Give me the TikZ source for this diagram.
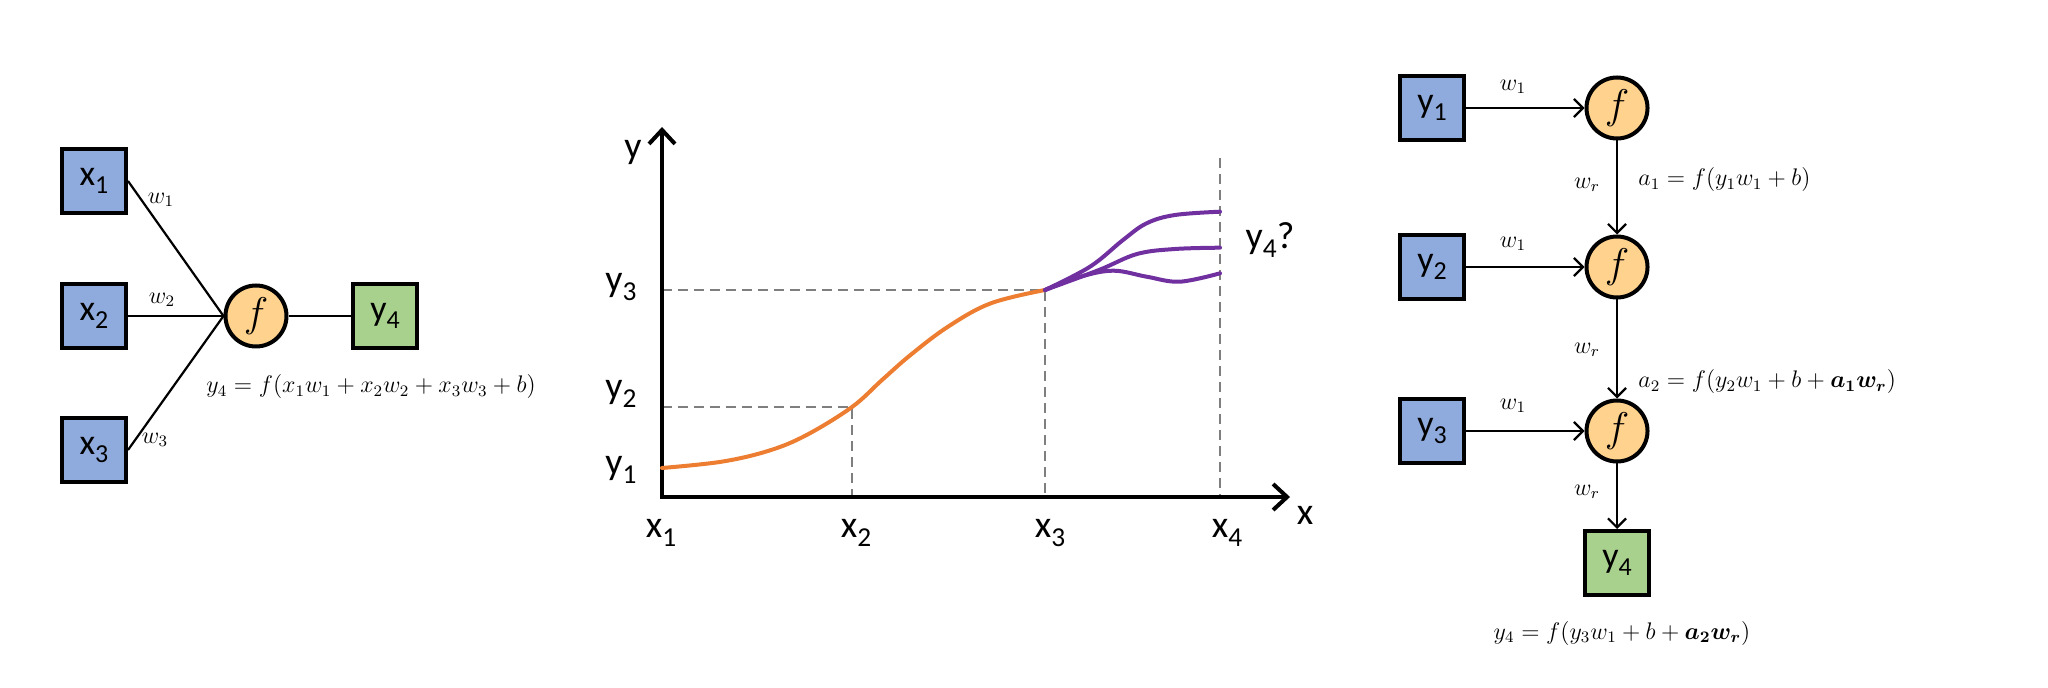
\documentclass[tikz,border=0pt]{standalone}
\usepackage{fontspec}
\setmainfont{Carlito}
\usepackage{bm}
\usetikzlibrary{arrows.meta}
\definecolor{boxblue}{HTML}{8FAADC}
\definecolor{circfill}{HTML}{FFD28E}
\definecolor{boxgreen}{HTML}{A9D18E}
\definecolor{curveor}{HTML}{ED7D31}
\definecolor{curvepu}{HTML}{7030A0}
\definecolor{dashgray}{HTML}{7F7F7F}
\newcommand\lsub[1]{\raisebox{-0.22em}{\scalebox{0.72}{#1}}}
\tikzset{
  inbox/.style={draw, line width=2pt, fill=boxblue, minimum size=32pt, inner sep=0pt, font=\fontsize{18}{20}\selectfont},
  outbox/.style={inbox, fill=boxgreen},
  fnode/.style={circle, draw, line width=2pt, fill=circfill, minimum size=30.5pt, inner sep=0pt, font=\fontsize{20}{22}\selectfont},
  wlab/.style={font=\fontsize{12}{14}\selectfont, inner sep=0pt},
  eqlab/.style={font=\fontsize{12}{14}\selectfont, inner sep=0pt},
  conn/.style={line width=1.1pt},
  arr/.style={conn, -{Straight Barb[length=4.5pt,width=9pt]}},
  axlines/.style={line width=2pt, line join=miter, {Straight Barb[length=7pt,width=13pt]}-{Straight Barb[length=7pt,width=13pt]}},
  guide/.style={dashgray, line width=0.8pt, dash pattern=on 5pt off 3pt},
  axlab/.style={font=\fontsize{19}{21}\selectfont, inner sep=0pt},
  curve/.style={line width=2pt, line cap=round}
}
\begin{document}
\begin{tikzpicture}[x=0.5pt,y=-0.5pt]
\useasboundingbox (0,0) rectangle (2048,688);

% ---------- left panel ----------
\node[inbox] (x1) at (94,181) {x\lsub{1}};
\node[inbox] (x2) at (94,316) {x\lsub{2}};
\node[inbox] (x3) at (94,450) {x\lsub{3}};
\node[fnode] (f0) at (256,316) {$f$};
\node[outbox] (y4a) at (385,316) {y\lsub{4}};
\draw[conn] (x1.east) -- (f0.west);
\draw[conn] (x2.east) -- (f0.west);
\draw[conn] (x3.east) -- (f0.west);
\draw[conn] (f0.east) -- (y4a.west);
\node[wlab] (lw1) at (161,200) {$w_1$};
\node[wlab] (lw2) at (162,300) {$w_2$};
\node[wlab] (lw3) at (155,440) {$w_3$};
\node[eqlab] (eq0) at (371,387) {$y_4=f(x_1w_1+x_2w_2+x_3w_3+b)$};

% ---------- middle chart ----------
\coordinate (O) at (662,497);
\coordinate (P1) at (662,468);
\coordinate (P2) at (852,407);
\coordinate (P3) at (1045,290);
\coordinate (X4top) at (1220,158);
\draw[guide] (O |- P2) -- (P2) -- (P2 |- O);
\draw[guide] (O |- P3) -- (P3) -- (P3 |- O);
\draw[guide] (X4top) -- (X4top |- O);
\draw[axlines] (662,127) -- (O) -- (1290,497);
\draw[curve, curveor] plot[smooth, tension=0.6] coordinates {(P1) (721.6,461.7) (768.9,450.7) (806.6,435) (P2) (882,380) (910.5,355) (948,326.7) (990.8,303.3) (P3)};
\draw[curve, curvepu] plot[smooth, tension=0.6] coordinates {(P3) (1090,266.7) (1123,240) (1146.6,223.3) (1175,215) (1220,211.7)};
\draw[curve, curvepu] plot[smooth, tension=0.6] coordinates {(P3) (1099,270) (1137,254) (1175,249) (1220,247.7)};
\draw[curve, curvepu] plot[smooth, tension=0.6] coordinates {(P3) (1080.5,276.7) (1113.5,270.7) (1146.6,276.7) (1179.6,281.7) (1220,273.3)};
\node[axlab] (ly) at (633,152) {y};
\node[axlab] (lx) at (1305,515) {x};
\node[axlab] (ly3) at (621,287) {y\lsub{3}};
\node[axlab] (ly2) at (621,394) {y\lsub{2}};
\node[axlab] (ly1) at (621,470) {y\lsub{1}};
\node[axlab] (lx1) at (661,533) {x\lsub{1}};
\node[axlab] (lx2) at (856,533) {x\lsub{2}};
\node[axlab] (lx3) at (1050,533) {x\lsub{3}};
\node[axlab] (lx4) at (1227,533) {x\lsub{4}};
\node[axlab] (ly4q) at (1270,240) {y\lsub{4}?};

% ---------- right panel ----------
\node[inbox] (ry1) at (1432,108) {y\lsub{1}};
\node[fnode] (f1) at (1617,108) {$f$};
\node[inbox] (ry2) at (1432,267) {y\lsub{2}};
\node[fnode] (f2) at (1617,267) {$f$};
\node[inbox] (ry3) at (1432,431) {y\lsub{3}};
\node[fnode] (f3) at (1617,431) {$f$};
\node[outbox] (ry4) at (1617,563) {y\lsub{4}};
\draw[arr] (ry1.east) -- (f1.west);
\draw[arr] (ry2.east) -- (f2.west);
\draw[arr] (ry3.east) -- (f3.west);
\draw[arr] (f1.south) -- (f2.north);
\draw[arr] (f2.south) -- (f3.north);
\draw[arr] (f3.south) -- (ry4.north);
\node[wlab] (rw1a) at (1513,87) {$w_1$};
\node[wlab] (rw1b) at (1513,244) {$w_1$};
\node[wlab] (rw1c) at (1513,406) {$w_1$};
\node[wlab] (rwra) at (1587,185) {$w_r$};
\node[wlab] (rwrb) at (1587,350) {$w_r$};
\node[wlab] (rwrc) at (1587,492) {$w_r$};
\node[eqlab, anchor=west] (eqa1) at (1638,180) {$a_1=f(y_1w_1+b)$};
\node[eqlab, anchor=west] (eqa2) at (1638,382) {$a_2=f(y_2w_1+b+\bm{a_1w_r})$};
\node[eqlab] (eqy4) at (1622,633) {$y_4=f(y_3w_1+b+\bm{a_2w_r})$};
\end{tikzpicture}
\end{document}
